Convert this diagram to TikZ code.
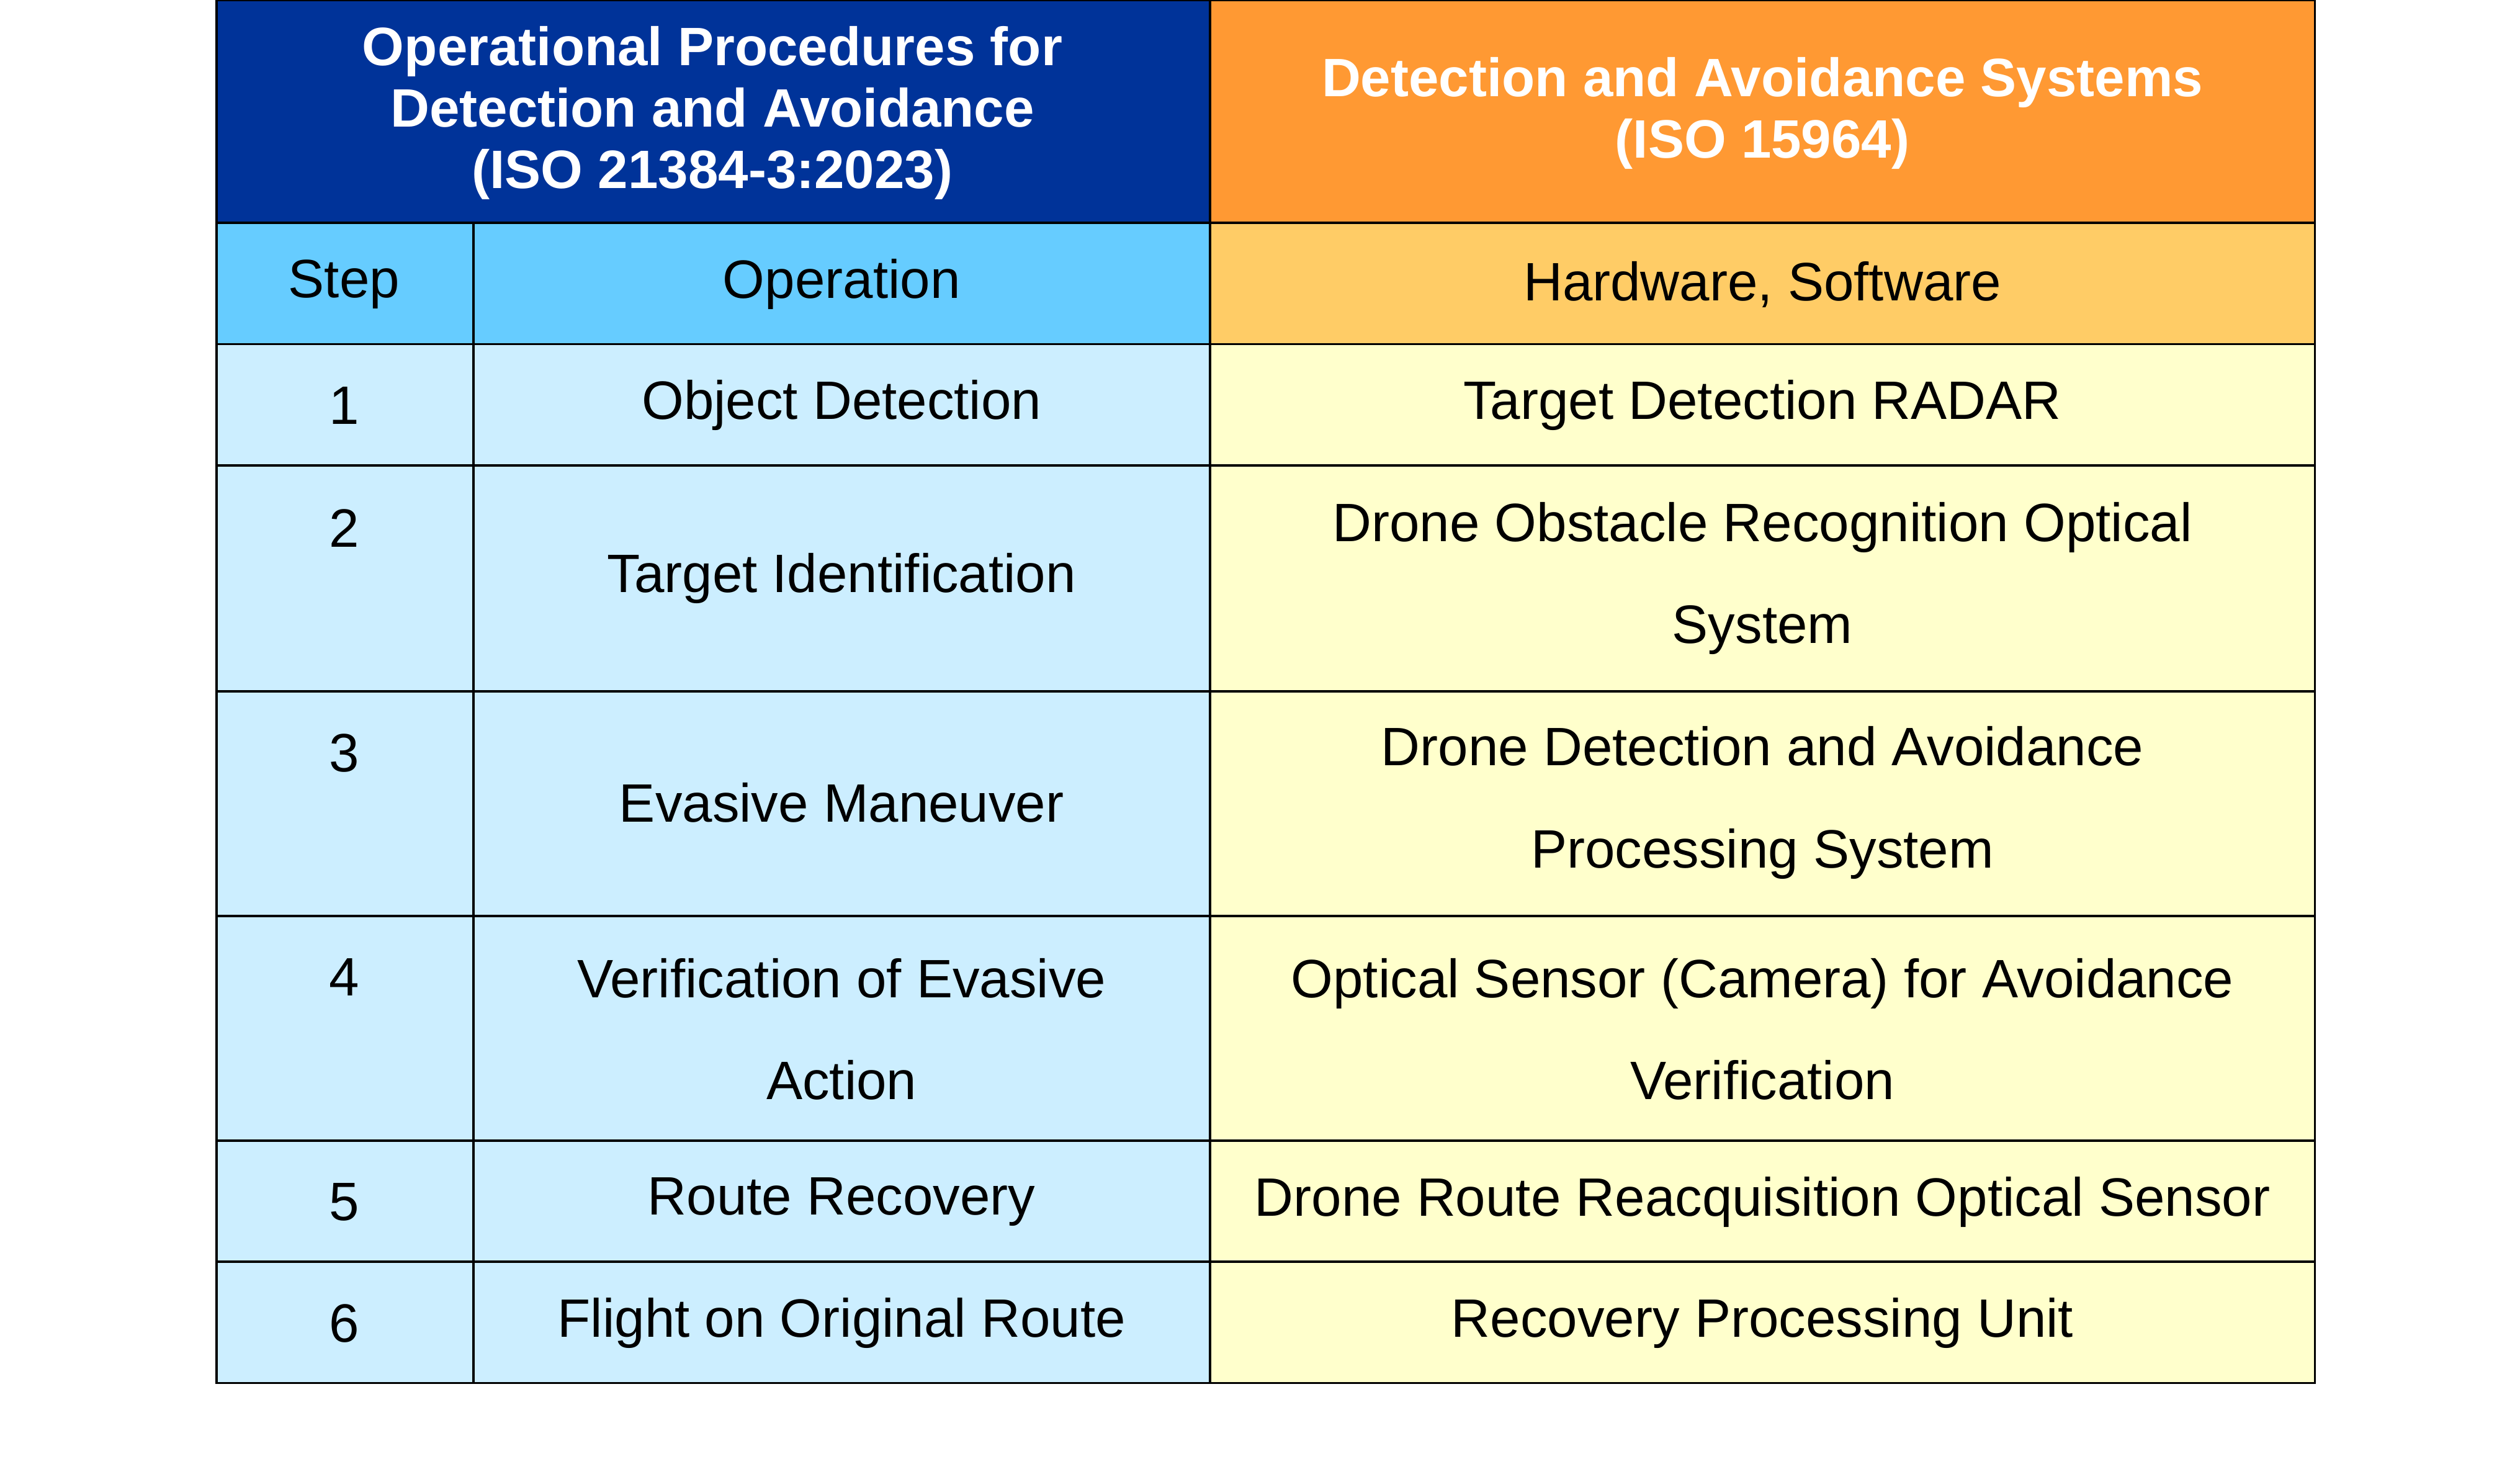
\documentclass[tikz,border=0pt]{standalone}
\usepackage{fontspec}
\setmainfont{Liberation Sans}
\usetikzlibrary{positioning}
\definecolor{hdblue}{HTML}{003399}
\definecolor{hdorange}{HTML}{FF9933}
\definecolor{subblue}{HTML}{66CCFF}
\definecolor{suborange}{HTML}{FFCC66}
\definecolor{cellblue}{HTML}{CCEEFF}
\definecolor{cellyellow}{HTML}{FFFFCC}
\begin{document}
\begin{tikzpicture}[x=0.025cm,y=-0.025cm]

\tikzset{celltext/.style={font=\fontsize{23.8}{45}\selectfont,align=center,inner sep=0pt},
headtext/.style={font=\fontsize{23.8}{27}\selectfont\bfseries,align=center,text=white,inner sep=0pt},
grid/.style={draw=black,line width=1pt}}

\useasboundingbox (0,0) rectangle (1560,917);

% fills
\fill[hdblue] (134,0) rectangle (749,138);
\fill[hdorange] (749,0) rectangle (1433,138);
\fill[subblue] (134,138) rectangle (749,213);
\fill[suborange] (749,138) rectangle (1433,213);
\fill[cellblue] (134,213) rectangle (749,856);
\fill[cellyellow] (749,213) rectangle (1433,856);

% grid
\draw[grid] (134,0) rectangle (1433,856);
\draw[grid] (749,0) -- (749,856);
\draw[grid] (293,138) -- (293,856);
\foreach \y in {138,213,288,428,567,706,781} \draw[grid] (134,\y) -- (1433,\y);

% header
\node[headtext] (hleft) at (441,70) {Operational Procedures for\\Detection and Avoidance\\(ISO 21384-3:2023)};
\node[headtext] (hright) at (1091,70) {Detection and Avoidance Systems\\(ISO 15964)};
\node[celltext] (hstep) at (213,176) {Step};
\node[celltext] (hop) at (521,176) {Operation};
\node[celltext] (hhw) at (1091,176) {Hardware, Software};

% rows
\node[celltext] (s1) at (213,251) {1};
\node[celltext] (o1) at (521,251) {Object Detection};
\node[celltext] (w1) at (1091,251) {Target Detection RADAR};
\node[celltext] (s2) at (213,327) {2};
\node[celltext] (o2) at (521,358) {Target Identification};
\node[celltext] (w2) at (1091,358) {Drone Obstacle Recognition Optical\\System};
\node[celltext] (s3) at (213,466) {3};
\node[celltext] (o3) at (521,497) {Evasive Maneuver};
\node[celltext] (w3) at (1091,497) {Drone Detection and Avoidance\\Processing System};
\node[celltext] (s4) at (213,605) {4};
\node[celltext] (o4) at (521,637) {Verification of Evasive\\Action};
\node[celltext] (w4) at (1091,637) {Optical Sensor (Camera) for Avoidance\\Verification};
\node[celltext] (s5) at (213,744) {5};
\node[celltext] (o5) at (521,744) {Route Recovery};
\node[celltext] (w5) at (1091,744) {Drone Route Reacquisition Optical Sensor};
\node[celltext] (s6) at (213,819) {6};
\node[celltext] (o6) at (521,819) {Flight on Original Route};
\node[celltext] (w6) at (1091,819) {Recovery Processing Unit};

\end{tikzpicture}
\end{document}
